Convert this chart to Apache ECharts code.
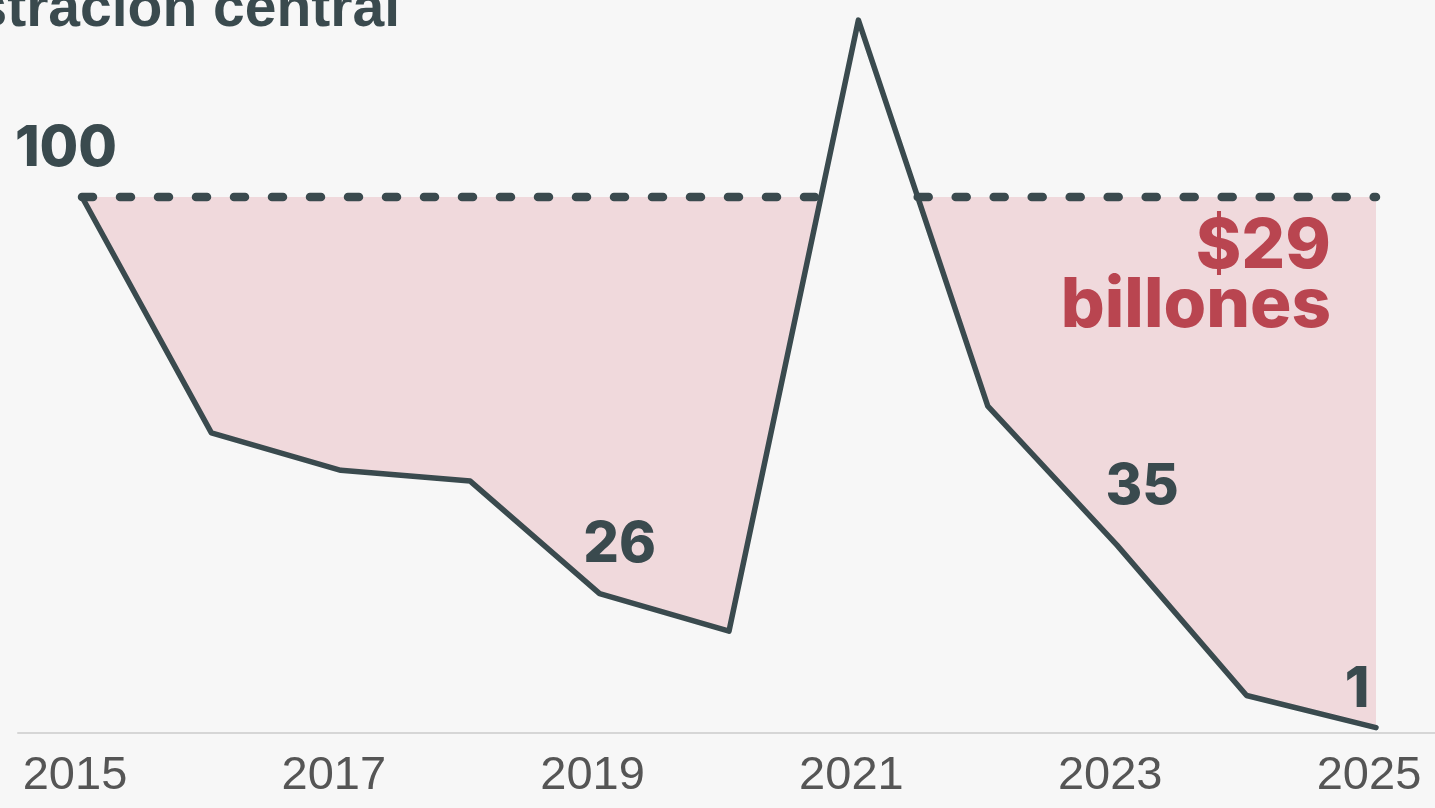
<!DOCTYPE html>
<html>
<head>
<meta charset="UTF-8">
<title>Administración central</title>
<style>
  html, body { margin: 0; padding: 0; background: #f7f7f7; }
  #main { width: 1435px; height: 808px; }
</style>
</head>
<body>
<div id="main"></div>
<script src="https://cdn.jsdelivr.net/npm/echarts@6/dist/echarts.min.js"></script>
<script>
// índice, 2015 = 100
var years = [2015, 2016, 2017, 2018, 2019, 2020, 2021, 2022, 2023, 2024, 2025];
var values = [100, 56, 49, 47, 26, 19, 133, 61, 35, 7, 1];
var tickYears = [2015, 2017, 2019, 2021, 2023, 2025];
var labelYears = [2015, 2019, 2023, 2025];
var baseValue = 100;
var noteText = '$29\nbillones';
var titleText = 'Administración central';

var dark = '#3a4a4e';
var red = '#b94550';
var pink = '#f0d9dc';

// tramos bajo la referencia, cortados en los cruces con 100
var segments = [];
var cur = [];
for (var i = 0; i < years.length; i++) {
  var v = values[i];
  if (v <= baseValue) cur.push([years[i], v]);
  if (i < years.length - 1) {
    var w = values[i + 1];
    if ((v - baseValue) * (w - baseValue) < 0) {
      var t = (baseValue - v) / (w - v);
      var xc = years[i] + t * (years[i + 1] - years[i]);
      if (v <= baseValue) {
        cur.push([xc, baseValue]);
        segments.push(cur);
        cur = [];
      } else {
        cur = [[xc, baseValue]];
      }
    }
  }
}
if (cur.length) segments.push(cur);

// línea punteada de 100 sólo sobre los tramos
var refPts = [];
segments.forEach(function (seg, k) {
  if (k > 0) refPts.push([seg[0][0], '-']);
  refPts.push([seg[0][0], baseValue]);
  refPts.push([seg[seg.length - 1][0], baseValue]);
});

var linePts = years.map(function (y, i) { return [y, values[i]]; });

// desplazamiento de cada etiqueta respecto a su punto
var labelOffsets = { 2015: [-16, -48], 2019: [20, -48], 2023: [25, -58], 2025: [-19, -37] };
var labelPts = labelYears.map(function (y) {
  var v = values[years.indexOf(y)];
  return { value: [y, v], label: { offset: labelOffsets[y] } };
});

var chart = echarts.init(document.getElementById('main'));

var option = {
  backgroundColor: '#f7f7f7',
  animation: false,
  grid: { left: 18, right: 0, top: 9.4, bottom: 75 },
  xAxis: {
    type: 'value',
    min: 2014.5054,
    max: 2025.456,
    axisLine: { show: true, lineStyle: { color: '#d6d6d6', width: 2 } },
    axisTick: { show: false },
    splitLine: { show: false },
    axisLabel: {
      customValues: tickYears,
      formatter: function (v) { return String(v); },
      color: '#555555',
      fontFamily: 'Liberation Sans',
      fontSize: 47,
      margin: 20,
      padding: [0, 14, 0, 0]
    }
  },
  yAxis: {
    type: 'value',
    min: 0,
    max: 135,
    show: false,
    splitLine: { show: false }
  },
  graphic: [
    {
      type: 'text',
      style: {
        text: titleText,
        x: 400,
        y: 10,
        align: 'right',
        verticalAlign: 'middle',
        font: 'bold 57px "Liberation Sans"',
        fill: dark
      }
    },
    {
      type: 'text',
      z: 10,
      style: {
        text: noteText,
        x: 1331,
        y: 218,
        align: 'right',
        verticalAlign: 'top',
        font: '800 69px Inter',
        lineHeight: 59,
        fill: red
      }
    }
  ],
  series: [
    {
      type: 'custom',
      data: [0],
      silent: true,
      z: 1,
      renderItem: function (params, api) {
        return {
          type: 'group',
          children: segments.map(function (seg) {
            var pts = seg.map(function (p) { return api.coord(p); });
            var first = seg[0], last = seg[seg.length - 1];
            pts.push(api.coord([last[0], baseValue]));
            pts.push(api.coord([first[0], baseValue]));
            return {
              type: 'polygon',
              shape: { points: pts },
              style: { fill: pink }
            };
          })
        };
      }
    },
    {
      type: 'line',
      data: refPts,
      symbol: 'none',
      lineStyle: { color: dark, width: 8.5, type: [11, 27], cap: 'round' },
      silent: true,
      z: 3
    },
    {
      type: 'line',
      data: linePts,
      symbol: 'none',
      lineStyle: { color: dark, width: 5.5, cap: 'round', join: 'round' },
      silent: true,
      z: 5
    },
    {
      type: 'scatter',
      data: labelPts,
      symbolSize: 1,
      itemStyle: { color: '#f7f7f7', opacity: 0 },
      z: 6,
      label: {
        show: true,
        position: 'inside',
        formatter: function (p) { return String(p.value[1]); },
        color: dark,
        opacity: 1,
        fontFamily: 'Inter',
        fontWeight: 800,
        fontSize: 56
      },
      silent: true
    }
  ]
};

chart.setOption(option);
</script>
</body>
</html>
